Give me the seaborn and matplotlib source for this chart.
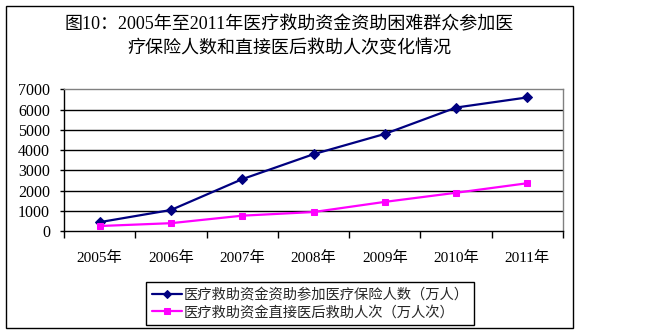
import numpy as np
import pandas as pd
import seaborn as sns
import matplotlib
matplotlib.use("Agg")
import matplotlib.pyplot as plt
from matplotlib.patches import Rectangle
from matplotlib.ticker import FixedLocator

# Data
years = ["2005年", "2006年", "2007年", "2008年", "2009年", "2010年", "2011年"]
insured = [450, 1050, 2570, 3800, 4800, 6100, 6600]        # 资助参加医疗保险人数（万人）
direct_aid = [260, 400, 770, 950, 1450, 1900, 2370]        # 直接医后救助人次（万人次）
series_names = ["医疗救助资金资助参加医疗保险人数（万人）",
                "医疗救助资金直接医后救助人次（万人次）"]
title_lines = ["图10：2005年至2011年医疗救助资金资助困难群众参加医",
               "疗保险人数和直接医后救助人次变化情况"]
y_ticks = [0, 1000, 2000, 3000, 4000, 5000, 6000, 7000]

sns.set_style("white")
SERIF = ["Liberation Serif", "Noto Sans CJK SC"]
SANS = ["Noto Sans CJK SC", "DejaVu Sans"]
plt.rcParams["font.family"] = SANS

W, H = 656, 332
fig = plt.figure(figsize=(W / 100, H / 100), dpi=100)
fig.patch.set_facecolor("white")

def fx(px):
    return px / W

def fy(py):
    return 1 - py / H

# Outer chart frame
fig.patches.append(Rectangle((fx(6), fy(328)), fx(573) - fx(6), fy(6) - fy(328),
                             transform=fig.transFigure, fill=False,
                             edgecolor="black", linewidth=1.0, zorder=0))

ax = fig.add_axes([fx(64), fy(231.3), fx(563) - fx(64), fy(89.3) - fy(231.3)])

df = pd.DataFrame({
    "pos": np.arange(len(years)),
    "year": years,
    "insured": insured,
    "direct": direct_aid,
})

sns.lineplot(data=df, x="pos", y="insured", ax=ax, color="#000080",
             linewidth=1.6, marker="D", markersize=5, markeredgecolor="#000080",
             label=series_names[0], zorder=4, legend=False)
sns.lineplot(data=df, x="pos", y="direct", ax=ax, color="#FF00FF",
             linewidth=1.6, marker="s", markersize=5, markeredgecolor="#FF00FF",
             label=series_names[1], zorder=4, legend=False)

ax.set_xlim(-0.5, len(years) - 0.5)
ax.set_ylim(0, 7000)
ax.set_xlabel("")
ax.set_ylabel("")

# Category labels centred in each slot, tick marks on the slot boundaries
ax.set_xticks(df["pos"])
ax.set_xticklabels(years, family=SERIF, fontsize=11)
ax.xaxis.set_minor_locator(FixedLocator(np.arange(-0.5, len(years), 1.0)))
ax.tick_params(axis="x", which="major", length=0, pad=14, colors="black")
ax.tick_params(axis="x", which="minor", length=5, width=1, direction="out",
               color="black", bottom=True)

ax.set_yticks(y_ticks)
ax.set_yticklabels([str(v) for v in y_ticks], family=SERIF, fontsize=11.5)
ax.tick_params(axis="y", length=3, width=1, direction="out", left=True,
               pad=7, colors="black")

# Horizontal gridlines
for v in y_ticks[1:-1]:
    ax.axhline(v, color="black", linewidth=1.0, zorder=1)

for side in ["left", "bottom"]:
    ax.spines[side].set_color("black")
    ax.spines[side].set_linewidth(1.0)
for side in ["top", "right"]:
    ax.spines[side].set_visible(True)
    ax.spines[side].set_color("#808080")
    ax.spines[side].set_linewidth(1.0)

# Title, centred on the chart frame
for line, y in zip(title_lines, [25, 49]):
    fig.text(fx(289.5), fy(y), line, ha="center", va="center",
             fontsize=13, family=SERIF, color="black")

handles, labels = ax.get_legend_handles_labels()
leg = fig.legend(handles, labels, loc="upper left",
                 bbox_to_anchor=(fx(146), fy(282)), frameon=True,
                 fancybox=False, edgecolor="black", framealpha=1,
                 fontsize=10.3, handlelength=2.1, handletextpad=0.1,
                 borderpad=0.4, labelspacing=0.25, borderaxespad=0)
leg.get_frame().set_linewidth(1.0)
for h in leg.legend_handles:
    h.set_markersize(4)

fig.savefig("out.png", dpi=100, facecolor="white")
